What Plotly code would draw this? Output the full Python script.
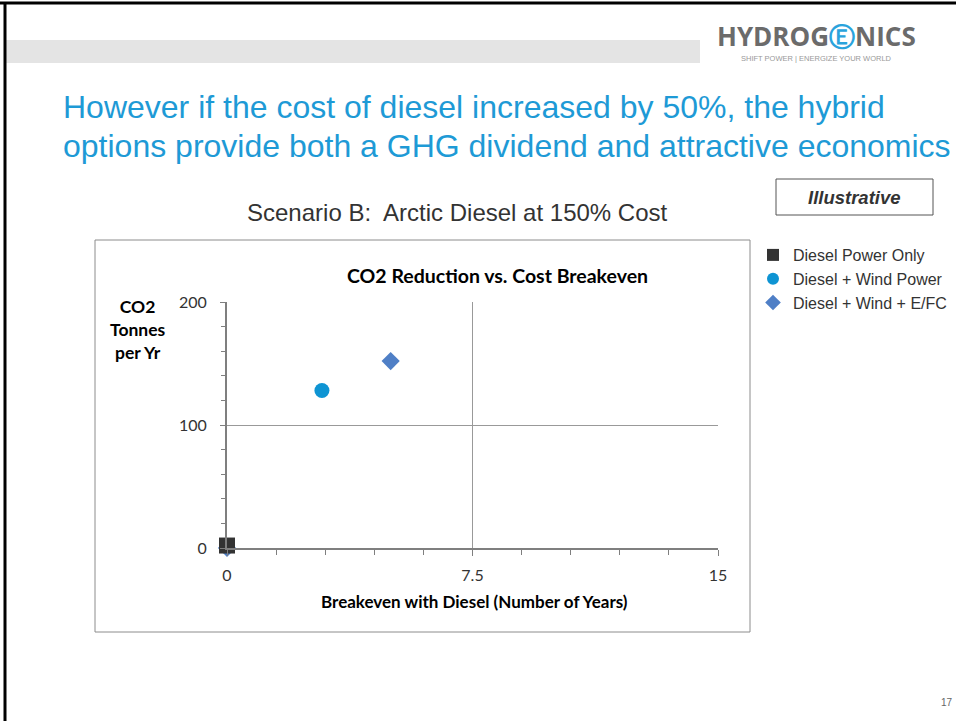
import plotly.graph_objects as go

# Data
series_names = ["Diesel Power Only", "Diesel + Wind Power", "Diesel + Wind + E/FC"]
breakeven_years = [[0], [2.9], [5.0, 0]]
co2_tonnes = [[2], [128], [152, 0]]
x_ticks = [0, 7.5, 15]
x_tick_labels = ["0", "7.5", "15"]
y_ticks = [0, 100, 200]
y_tick_labels = ["0", "100", "200"]

W, H = 956, 721
def px(x):
    return x / W
def py(y):
    return 1 - y / H

colors = ["#333333", "#0E94D3", "#4F7FC6"]
symbols = ["square", "circle", "diamond"]
sizes = [16, 15, 14]

fig = go.Figure()
for i in range(3):
    fig.add_trace(go.Scatter(
        x=breakeven_years[i], y=co2_tonnes[i], mode="markers", name=series_names[i],
        marker=dict(symbol=symbols[i], color=colors[i], size=sizes[i], line=dict(width=0)),
        cliponaxis=False,
    ))
# draw the square on top of the small diamond at origin
fig.data = (fig.data[2], fig.data[1], fig.data[0])

axis_font = dict(family="Lato, Open Sans, sans-serif", size=16, color="#333333")

fig.update_layout(
    width=W, height=H,
    margin=dict(l=0, r=0, t=0, b=0, autoexpand=False),
    paper_bgcolor="white", plot_bgcolor="white",
    showlegend=True,
    legend=dict(x=px(753), y=py(238), xanchor="left", yanchor="top",
                font=dict(family="Arial, Liberation Sans, sans-serif", size=16, color="#333333"),
                traceorder="reversed", bgcolor="rgba(0,0,0,0)", itemsizing="constant",
                tracegroupgap=0),
    xaxis=dict(domain=[px(227), px(718)], range=[0, 15], tickvals=x_ticks, ticktext=x_tick_labels,
               showgrid=True, gridcolor="#999999", gridwidth=1, zeroline=False,
               showline=True, linecolor="#7f7f7f", linewidth=2, ticks="outside", ticklen=6,
               tickcolor="#7f7f7f", tickfont=axis_font, ticklabelstandoff=6,
               minor=dict(dtick=1.5, tick0=0, ticks="outside", ticklen=5, tickcolor="#7f7f7f", showgrid=False)),
    yaxis=dict(domain=[py(548), py(302)], range=[0, 200], tickvals=y_ticks, ticktext=y_tick_labels,
               showgrid=True, gridcolor="#999999", gridwidth=1, zeroline=False,
               showline=True, linecolor="#7f7f7f", linewidth=2, ticks="outside", ticklen=5,
               tickcolor="#7f7f7f", tickfont=axis_font, ticklabelstandoff=10,
               minor=dict(dtick=20, tick0=0, ticks="outside", ticklen=4, tickcolor="#7f7f7f", showgrid=False)),
)

shapes = [
    # slide frame
    dict(type="line", xref="paper", yref="paper", x0=0, x1=1, y0=py(3), y1=py(3), line=dict(color="black", width=3)),
    dict(type="line", xref="paper", yref="paper", x0=px(5), x1=px(5), y0=py(2), y1=0, line=dict(color="black", width=3)),
    # grey band
    dict(type="rect", xref="paper", yref="paper", x0=px(6), x1=px(700), y0=py(40), y1=py(63),
         fillcolor="#e4e4e4", line=dict(width=0), layer="below"),
    # chart border
    dict(type="rect", xref="paper", yref="paper", x0=px(95), x1=px(750), y0=py(240), y1=py(632),
         line=dict(color="#8c8c8c", width=1), layer="below"),
    # Illustrative box
    dict(type="rect", xref="paper", yref="paper", x0=px(776), x1=px(933), y0=py(179), y1=py(215),
         line=dict(color="#555555", width=1)),
]
fig.update_layout(shapes=shapes)

title_blue = "#1E9AD6"
title_font = dict(family="Arial, Liberation Sans, sans-serif", size=32, color=title_blue)
ann = []
ann.append(dict(x=px(61), y=py(107), xref="paper", yref="paper", xanchor="left", yanchor="middle",
                text="However if the cost of diesel increased by 50%, the hybrid", showarrow=False,
                font=title_font))
ann.append(dict(x=px(61), y=py(146), xref="paper", yref="paper", xanchor="left", yanchor="middle",
                text="options provide both a GHG dividend and attractive economics", showarrow=False,
                font=title_font))
ann.append(dict(x=px(457), y=py(212), xref="paper", yref="paper", xanchor="center", yanchor="middle",
                text="Scenario B:  Arctic Diesel at 150% Cost", showarrow=False,
                font=dict(family="Arial, Liberation Sans, sans-serif", size=24, color="#333333")))
ann.append(dict(x=px(854), y=py(197), xref="paper", yref="paper", xanchor="center", yanchor="middle",
                text="<b><i>Illustrative</i></b>", showarrow=False,
                font=dict(family="Arial, Liberation Sans, sans-serif", size=18.5, color="#333333")))
ann.append(dict(x=px(497), y=py(275), xref="paper", yref="paper", xanchor="center", yanchor="middle",
                text="<b>CO2 Reduction vs. Cost Breakeven</b>", showarrow=False,
                font=dict(family="Lato, Open Sans, sans-serif", size=19.5, color="black")))
ann.append(dict(x=px(138), y=py(329), xref="paper", yref="paper", xanchor="center", yanchor="middle",
                text="<b>CO2<br>Tonnes<br>per Yr</b>", showarrow=False, align="center",
                font=dict(family="Lato, Open Sans, sans-serif", size=17.5, color="black")))
ann.append(dict(x=px(474), y=py(601), xref="paper", yref="paper", xanchor="center", yanchor="middle",
                text="<b>Breakeven with Diesel (Number of Years)</b>", showarrow=False,
                font=dict(family="Lato, Open Sans, sans-serif", size=17, color="black")))
# logo
ann.append(dict(x=px(816), y=py(36), xref="paper", yref="paper", xanchor="center", yanchor="middle",
                text="<b>HYDROG<span style='color:#2aa3dc'>Ⓔ</span>NICS</b>", showarrow=False,
                font=dict(family="Open Sans, Arial, sans-serif", size=26, color="#6b6b6b")))
ann.append(dict(x=px(816), y=py(59), xref="paper", yref="paper", xanchor="center", yanchor="middle",
                text="SHIFT POWER | ENERGIZE YOUR WORLD", showarrow=False,
                font=dict(family="Arial, sans-serif", size=7.5, color="#999999")))
ann.append(dict(x=px(955), y=py(702), xref="paper", yref="paper", xanchor="right", yanchor="middle",
                text="17", showarrow=False,
                font=dict(family="Arial, sans-serif", size=10, color="#666666")))
fig.update_layout(annotations=ann)

fig.write_html("out.html", config={"displayModeBar": False},
               post_script="document.body.style.margin='0';document.body.style.overflow='hidden';")
